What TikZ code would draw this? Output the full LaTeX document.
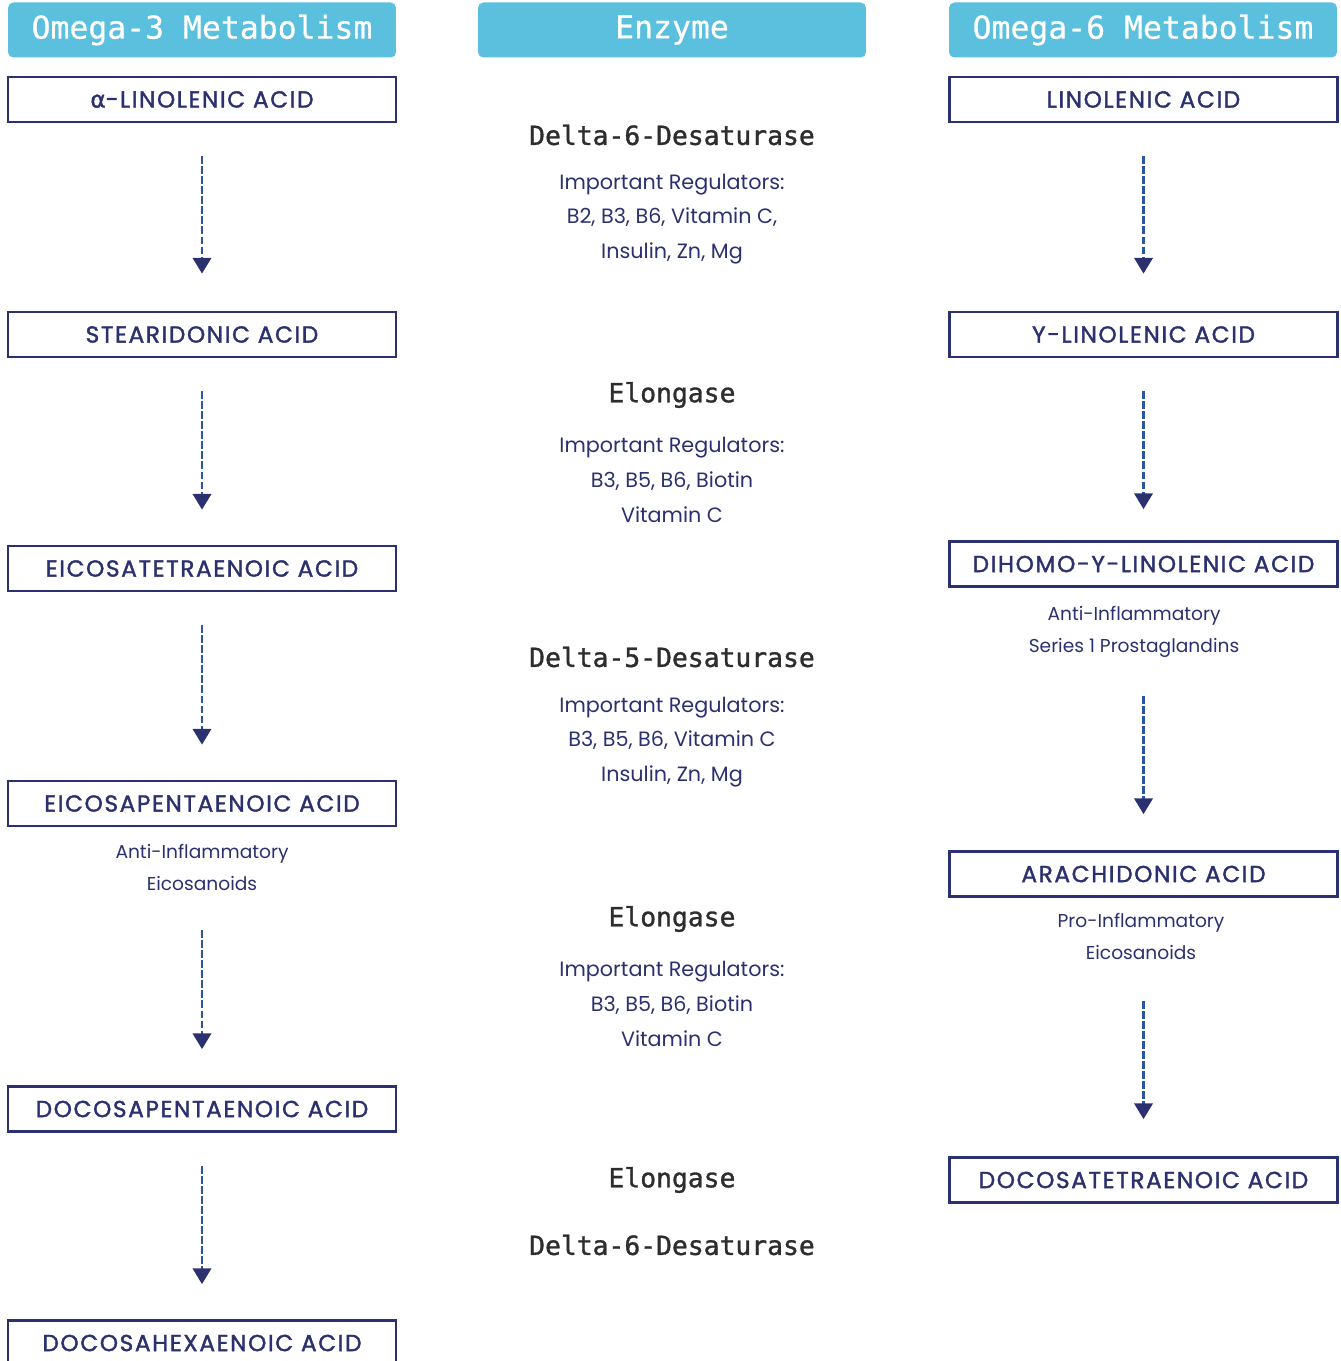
\documentclass[tikz,border=0pt]{standalone}
\usepackage{fontspec}
\setmainfont{Poppins}
\newfontfamily\monofont{DejaVu Sans Mono}
\newfontfamily\greekfont{DejaVu Sans}
\usetikzlibrary{arrows.meta}
\definecolor{headblue}{RGB}{91,192,222}
\definecolor{navy}{RGB}{43,49,110}
\definecolor{arrowblue}{RGB}{45,85,165}
\definecolor{enzgray}{RGB}{45,45,45}
\tikzset{
  head/.style={fill=headblue, rounded corners=3pt, minimum width=7.76cm, minimum height=1.1cm,
    inner sep=0pt, text=white, font=\monofont\fontsize{17.9}{20}\selectfont\addfontfeatures{FakeBold=0.6}},
  acid/.style={draw=navy, line width=1.6pt, minimum width=7.76cm, minimum height=0.9cm,
    inner sep=0pt, text=navy, font=\fontsize{13.2}{14}\selectfont\addfontfeatures{LetterSpace=7,FakeBold=1.6}},
  note/.style={text=navy, align=center, font=\fontsize{10.6}{18.2}\selectfont},
  regs/.style={text=navy, align=center, font=\fontsize{11.8}{19.8}\selectfont},
  enz/.style={text=enzgray, font=\monofont\fontsize{15}{18}\selectfont\addfontfeatures{FakeBold=1.2}},
  flow/.style={arrowblue, line width=1.5pt, dash pattern=on 4.5pt off 1.2pt,
    -{Triangle[width=10.5pt,length=9pt,fill=navy,color=navy]}}
}
\begin{document}
\begin{tikzpicture}[x=0.02cm,y=-0.02cm]
    \useasboundingbox (0,0) rectangle (1340,1361);

    % column headers
    \node[head] (h3) at (202,30) {Omega-3 Metabolism};
    \node[head] (he) at (672,30) {Enzyme};
    \node[head] (h6) at (1143,30) {Omega-6 Metabolism};

    % omega-3 side
    \node[acid] (a1) at (202,99.5) {{\greekfont\addfontfeatures{FakeBold=1.6}α}-LINOLENIC ACID};
    \node[acid] (a2) at (202,334.5) {STEARIDONIC ACID};
    \node[acid] (a3) at (202,568.5) {EICOSATETRAENOIC ACID};
    \node[acid] (a4) at (202,803.5) {EICOSAPENTAENOIC ACID};
    \node[acid] (a5) at (202,1109) {DOCOSAPENTAENOIC ACID};
    \node[acid] (a6) at (202,1343) {DOCOSAHEXAENOIC ACID};
    \node[note] (n4) at (202,867) {Anti-Inflammatory\\Eicosanoids};

    % omega-6 side
    \node[acid] (b1) at (1143.5,99.5) {LINOLENIC ACID};
    \node[acid] (b2) at (1143.5,334.5) {Y-LINOLENIC ACID};
    \node[acid] (b3) at (1143.5,564) {DIHOMO-Y-LINOLENIC ACID};
    \node[acid] (b4) at (1143.5,874) {ARACHIDONIC ACID};
    \node[acid] (b5) at (1143.5,1180) {DOCOSATETRAENOIC ACID};
    \node[note] (m3) at (1134,632) {Anti-Inflammatory\\Series 1 Prostaglandins};
    \node[note] (m4) at (1141,936) {Pro-Inflammatory\\Eicosanoids};

    % enzymes
    \node[enz] (e1) at (672,135) {Delta-6-Desaturase};
    \node[regs] (r1) at (672,219) {Important Regulators:\\B2, B3, B6, Vitamin C,\\Insulin, Zn, Mg};
    \node[enz] (e2) at (672,395) {Elongase};
    \node[regs] (r2) at (672,480) {Important Regulators:\\B3, B5, B6, Biotin\\Vitamin C};
    \node[enz] (e3) at (672,657) {Delta-5-Desaturase};
    \node[regs] (r3) at (672,742) {Important Regulators:\\B3, B5, B6, Vitamin C\\Insulin, Zn, Mg};
    \node[enz] (e4) at (672,919) {Elongase};
    \node[regs] (r4) at (672,1004) {Important Regulators:\\B3, B5, B6, Biotin\\Vitamin C};
    \node[enz] (e5) at (672,1180) {Elongase};
    \node[enz] (e6) at (672,1245) {Delta-6-Desaturase};

    % conversion arrows
    \foreach \s/\t/\a/\b in {a1/a2/0.66/0.74, a2/a3/0.66/0.70, a3/a4/0.66/0.70, a4/a5/2.06/0.72,
        a5/a6/0.66/0.70, b1/b2/0.66/0.74, b2/b3/0.66/0.62, b3/b4/2.16/0.72, b4/b5/2.06/0.74}
      \draw[flow, shorten <=\a cm, shorten >=\b cm] (\s) -- (\t);
\end{tikzpicture}
\end{document}
